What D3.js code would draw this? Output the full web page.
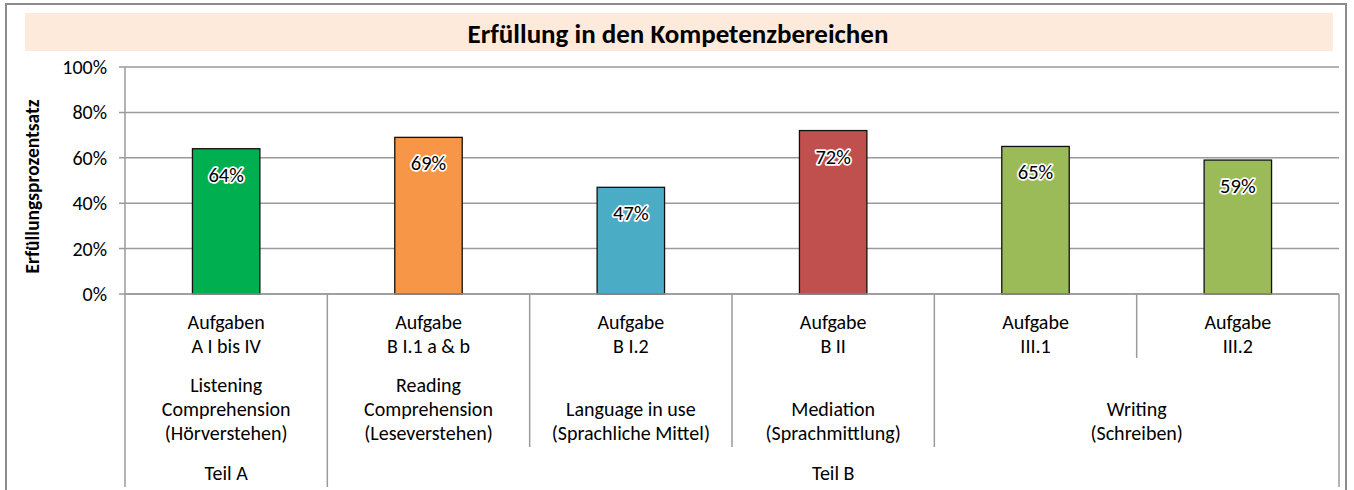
<!DOCTYPE html>
<html>
<head>
<meta charset="utf-8">
<script src="https://cdn.jsdelivr.net/npm/d3@7"></script>
<style>
  body { margin: 0; background: #fff; }
  text { font-family: Calibri, Carlito, Lato, sans-serif; }
</style>
</head>
<body>
<svg id="chart" width="1354" height="490"></svg>
<script>
// chart data
const tasks = [
  ["Aufgaben", "A I bis IV"],
  ["Aufgabe", "B I.1 a & b"],
  ["Aufgabe", "B I.2"],
  ["Aufgabe", "B II"],
  ["Aufgabe", "III.1"],
  ["Aufgabe", "III.2"]
];
const values = [0.64, 0.69, 0.47, 0.72, 0.65, 0.59];
const barColors = ["#00B050", "#F79646", "#4BACC6", "#C0504D", "#9BBB59", "#9BBB59"];
const skillLabels = [
  ["Listening", "Comprehension", "(Hörverstehen)"],
  ["Reading", "Comprehension", "(Leseverstehen)"],
  ["Language in use", "(Sprachliche Mittel)"],
  ["Mediation", "(Sprachmittlung)"],
  ["Writing", "(Schreiben)"]
];
const skillSpans = [1, 1, 1, 1, 2];
const partLabels = ["Teil A", "Teil B"];
const partSpans = [1, 5];
const yTicks = [0, 0.2, 0.4, 0.6, 0.8, 1];

const title = "Erfüllung in den Kompetenzbereichen";
const yTitle = "Erfüllungsprozentsatz";

const svg = d3.select("#chart");
const plot = { left: 125, right: 1339, top: 67, bottom: 294 };
const gridColor = "#9a9a9a";
const labelSize = 20;

// outer frame + title band
svg.append("rect")
  .attr("x", 6).attr("y", 4).attr("width", 1340).attr("height", 500)
  .attr("fill", "#fff").attr("stroke", "#8c8c8c").attr("stroke-width", 2);
svg.append("rect")
  .attr("x", 25).attr("y", 13).attr("width", 1308).attr("height", 38)
  .attr("fill", "#FDEADA");
svg.append("text")
  .attr("x", 678).attr("y", 33)
  .attr("text-anchor", "middle").attr("dominant-baseline", "central")
  .attr("font-size", 27).attr("font-weight", "bold")
  .text(title);

const x = d3.scaleBand()
  .domain(d3.range(values.length))
  .range([plot.left, plot.right])
  .paddingInner(0).paddingOuter(0);
const y = d3.scaleLinear().domain([0, 1]).range([plot.bottom, plot.top]);

// gridlines
svg.append("g")
  .selectAll("line")
  .data(yTicks)
  .join("line")
  .attr("x1", plot.left - 6).attr("x2", plot.right)
  .attr("y1", d => y(d)).attr("y2", d => y(d))
  .attr("stroke", gridColor).attr("stroke-width", 1.5);

// y axis
const yAxis = svg.append("g")
  .attr("transform", `translate(${plot.left},0)`)
  .call(d3.axisLeft(y).tickValues(yTicks).tickFormat(d3.format(".0%")).tickSize(0).tickPadding(18));
yAxis.select(".domain").remove();
yAxis.selectAll("text").attr("font-size", labelSize).attr("fill", "#000")
  .style("font-family", "Calibri, Carlito, Lato, sans-serif");

svg.append("text")
  .attr("transform", `translate(32,${(plot.top + plot.bottom) / 2 + 6}) rotate(-90)`)
  .attr("text-anchor", "middle").attr("dominant-baseline", "central")
  .attr("font-size", 19.5).attr("font-weight", "bold")
  .text(yTitle);

// bars
const bw = x.bandwidth() / 3;
svg.append("g")
  .selectAll("rect")
  .data(values)
  .join("rect")
  .attr("x", (d, i) => x(i) + x.bandwidth() / 2 - bw / 2)
  .attr("y", d => y(d))
  .attr("width", bw)
  .attr("height", d => y(0) - y(d))
  .attr("fill", (d, i) => barColors[i])
  .attr("stroke", "#111").attr("stroke-width", 1.3);

// data labels with white glow
svg.append("g")
  .selectAll("text")
  .data(values)
  .join("text")
  .attr("x", (d, i) => x(i) + x.bandwidth() / 2)
  .attr("y", d => y(d) + 26)
  .attr("text-anchor", "middle").attr("dominant-baseline", "central")
  .attr("font-size", 20.5)
  .attr("fill", "#000")
  .attr("stroke", "#fff").attr("stroke-width", 3.5).attr("stroke-linejoin", "round")
  .attr("paint-order", "stroke")
  .text(d => d3.format(".0%")(d));

// x axis baseline
svg.append("line")
  .attr("x1", plot.left).attr("x2", plot.right)
  .attr("y1", plot.bottom).attr("y2", plot.bottom)
  .attr("stroke", gridColor).attr("stroke-width", 1.5);

// multi-level category labels
const rowBottoms = [358, 447, 487];
const sep = svg.append("g").attr("stroke", gridColor).attr("stroke-width", 1.5);

function edges(spans) {
  const out = [0];
  spans.forEach(s => out.push(out[out.length - 1] + s));
  return out;
}
const skillEdges = edges(skillSpans);
const partEdges = edges(partSpans);
const edgeX = k => k < values.length ? x(k) : plot.right;

d3.range(values.length + 1).forEach(k => {
  let bottom = rowBottoms[0];
  if (skillEdges.includes(k)) bottom = rowBottoms[1];
  if (partEdges.includes(k)) bottom = rowBottoms[2];
  sep.append("line")
    .attr("x1", edgeX(k)).attr("x2", edgeX(k))
    .attr("y1", k === 0 ? plot.top : plot.bottom).attr("y2", bottom);
});

const lbl = svg.append("g").attr("font-size", labelSize).attr("text-anchor", "middle").attr("fill", "#000");

tasks.forEach((lines, i) => {
  lines.forEach((t, j) => {
    lbl.append("text")
      .attr("x", x(i) + x.bandwidth() / 2)
      .attr("y", 322 + j * 24)
      .attr("dominant-baseline", "central")
      .text(t);
  });
});

skillLabels.forEach((lines, g) => {
  const cx = (edgeX(skillEdges[g]) + edgeX(skillEdges[g + 1])) / 2;
  lines.forEach((t, j) => {
    lbl.append("text")
      .attr("x", cx)
      .attr("y", 433 - (lines.length - 1 - j) * 24)
      .attr("dominant-baseline", "central")
      .text(t);
  });
});

partLabels.forEach((t, g) => {
  const cx = (edgeX(partEdges[g]) + edgeX(partEdges[g + 1])) / 2;
  lbl.append("text")
    .attr("x", cx).attr("y", 473)
    .attr("dominant-baseline", "central")
    .text(t);
});
</script>
</body>
</html>
